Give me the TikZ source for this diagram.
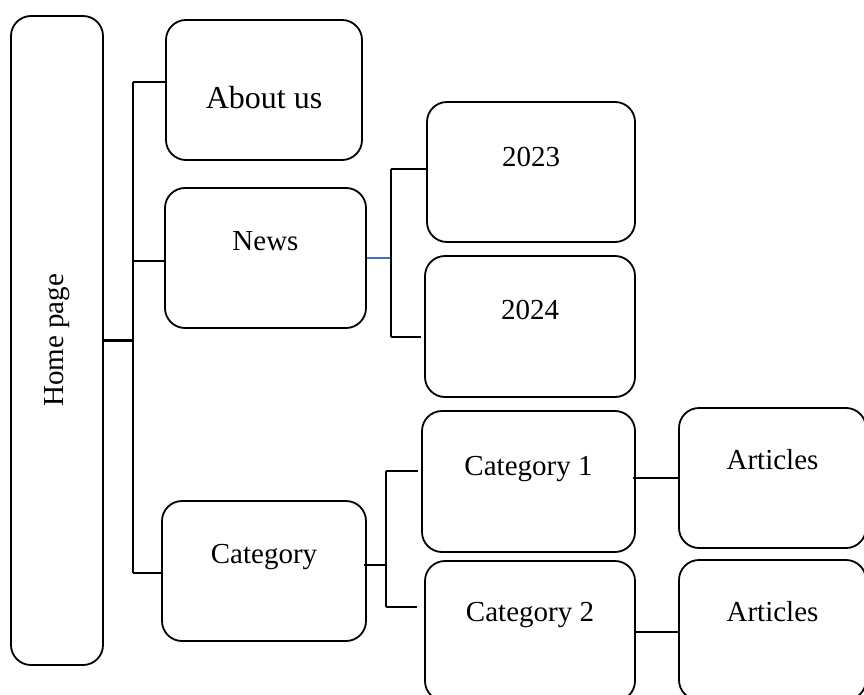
\documentclass[tikz,border=0pt]{standalone}
\usepackage{fontspec}
\setmainfont{Liberation Serif}
\usetikzlibrary{calc}
\definecolor{wordblue}{RGB}{68,114,196}

\begin{document}
\begin{tikzpicture}[x=1pt,y=-1pt,
    box/.style={draw,line width=1.8pt,rounded corners=20pt,inner sep=0pt},
    lab/.style={font=\fontsize{29}{34}\selectfont,inner sep=0pt},
    conn/.style={line width=2.8pt}]
\useasboundingbox (0,0) rectangle (864,695);
\clip (0,0) rectangle (864,695);

% boxes
\node[box,minimum width=92pt,minimum height=649pt] (home) at (57,340.5) {};
\node[lab,rotate=90] (home-t) at (home) {Home page};

\node[box,minimum width=196pt,minimum height=140pt] (about) at (264,90) {};
\node[lab,font=\fontsize{32}{38}\selectfont,yshift=-8pt] (about-t) at (about) {About us};
\node[box,minimum width=201pt,minimum height=140pt] (news) at (265.5,258) {};
\node[lab,yshift=16.5pt] (news-t) at (news) {News};
\node[box,minimum width=204pt,minimum height=140pt] (cat) at (264,571) {};
\node[lab,yshift=14pt] (cat-t) at (cat) {Category};

\node[box,minimum width=208pt,minimum height=140pt] (y2023) at (531,172) {};
\node[lab,yshift=15pt] (y2023-t) at (y2023) {2023};
\node[box,minimum width=210pt,minimum height=141pt] (y2024) at (530,326.5) {};
\node[lab,yshift=16.5pt] (y2024-t) at (y2024) {2024};

\node[box,minimum width=213pt,minimum height=141pt] (cat1) at (528.5,481.5) {};
\node[lab,yshift=12.5pt] (cat1-t) at (cat1) {Category 1};
\node[box,minimum width=210pt,minimum height=140pt] (cat2) at (530,631) {};
\node[lab,yshift=16pt] (cat2-t) at (cat2) {Category 2};

\node[box,minimum width=187pt,minimum height=140pt] (art1) at (772.5,478) {};
\node[lab,yshift=18pt] (art1-t) at (art1) {Articles};
\node[box,minimum width=187pt,minimum height=140pt] (art2) at (772.5,630) {};
\node[lab,yshift=18pt] (art2-t) at (art2) {Articles};

% home page tree
\coordinate (t1) at (133,82);
\coordinate (t2) at (133,261);
\coordinate (t3) at (133,573);
\draw[conn] (t1) -- (t3);
\draw[conn] (home.east) -- (home.east -| t1);
\draw[conn] (t1) -- (t1 -| about.west);
\draw[conn] (t2) -- (t2 -| news.west);
\draw[conn] (t3) -- (t3 -| cat.west);

% news bracket
\coordinate (n1) at (391,169);
\coordinate (n2) at (391,337);
\draw[wordblue,line width=1.4pt] (news.east) -- (news.east -| n1);
\draw[conn] (n1) -- (n2);
\draw[conn] (n1) -- (n1 -| y2023.west);
\draw[line width=1.8pt] (n2) -- ([xshift=-3pt]n2 -| y2024.west);

% category bracket
\coordinate (c0) at (386,565);
\coordinate (c1) at (386,471);
\coordinate (c2) at (386,607);
\draw[conn] ([xshift=-3pt]c0 -| cat.east) -- (c0);
\draw[conn] (c1) -- (c2);
\draw[conn] (c1) -- ([xshift=-3pt]c1 -| cat1.west);
\draw[conn] (c2) -- ([xshift=-7pt]c2 -| cat2.west);

% articles
\draw[conn] ([xshift=-3pt]cat1.east |- art1.west) -- (art1.west);
\draw[conn] (cat2.east |- 0,632) -- (art2.west |- 0,632);

\end{tikzpicture}
\end{document}
